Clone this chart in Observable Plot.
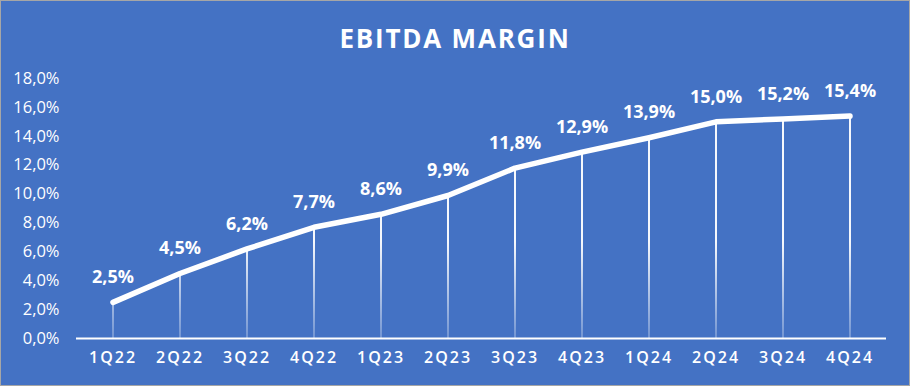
<!DOCTYPE html>
<html>
<head>
<meta charset="utf-8">
<script src="https://cdn.jsdelivr.net/npm/d3@7"></script>
<script src="https://cdn.jsdelivr.net/npm/@observablehq/plot@0.6"></script>
<style>
  html, body { margin: 0; padding: 0; background: #fff; }
  #chart {
    width: 910px; height: 386px; box-sizing: border-box;
    background: #4472C4; border: 1px solid #a6a6a6;
    font-family: "Open Sans", sans-serif; overflow: hidden;
  }
  #title {
    height: 61px; line-height: 74px; text-align: center; color: #fff;
    font-size: 26px; font-weight: 700; letter-spacing: 1.8px;
  }
  #chart svg { display: block; }
</style>
</head>
<body>
<div id="chart">
  <div id="title">EBITDA MARGIN</div>
</div>
<script>
const quarters = ["1Q22","2Q22","3Q22","4Q22","1Q23","2Q23","3Q23","4Q23","1Q24","2Q24","3Q24","4Q24"];
const margins = [2.5, 4.5, 6.2, 7.7, 8.6, 9.9, 11.8, 12.9, 13.9, 15.0, 15.2, 15.4];
const yTicks = [0, 2, 4, 6, 8, 10, 12, 14, 16, 18];

const data = quarters.map((q, i) => ({q, v: margins[i]}));
const fmt = v => d3.format(".1f")(v).replace(".", ",") + "%";

const chart = Plot.plot({
  width: 908,
  height: 323,
  marginLeft: 75,
  marginRight: 23,
  marginTop: 16,
  marginBottom: 47,
  style: {background: "transparent", color: "#fff", fontFamily: "Open Sans, sans-serif"},
  x: {type: "band", domain: quarters, padding: 0, label: null},
  y: {domain: [0, 18], label: null},
  marks: [
    Plot.ruleX(data, {x: "q", y1: 0, y2: "v", stroke: "url(#dropGrad)", strokeWidth: 2}),
    Plot.ruleY([0], {stroke: "#fff", strokeWidth: 2}),
    Plot.lineY(data, {x: "q", y: "v", stroke: "#fff", strokeWidth: 5.5, strokeLinecap: "round", strokeLinejoin: "round"}),
    Plot.text(data, {x: "q", y: "v", text: d => fmt(d.v), dy: -25, fill: "#fff", fontSize: 18, fontWeight: 700}),
    Plot.axisY(yTicks, {tickSize: 0, tickPadding: 17, tickFormat: v => d3.format(".1f")(v).replace(".", ",") + "%", fill: "#fff", label: null}),
    Plot.axisX({tickSize: 0, tickPadding: 13, fill: "#fff", label: null})
  ]
});

const svg = d3.select(chart);
svg.selectAll('g[aria-label="x-axis tick label"] text')
  .style("font-size", "16px").style("font-weight", "600").style("letter-spacing", "2px");
svg.selectAll('g[aria-label="y-axis tick label"] text')
  .style("font-size", "16.5px").style("font-weight", "500");
const defs = svg.insert("defs", ":first-child");
const g = defs.append("linearGradient")
  .attr("id", "dropGrad").attr("gradientUnits", "userSpaceOnUse")
  .attr("x1", 0).attr("x2", 0).attr("y1", 180).attr("y2", 276);
g.append("stop").attr("offset", "0").attr("stop-color", "#fff").attr("stop-opacity", 0.95);
g.append("stop").attr("offset", "1").attr("stop-color", "#fff").attr("stop-opacity", 0.25);

document.getElementById("chart").appendChild(chart);
</script>
</body>
</html>
